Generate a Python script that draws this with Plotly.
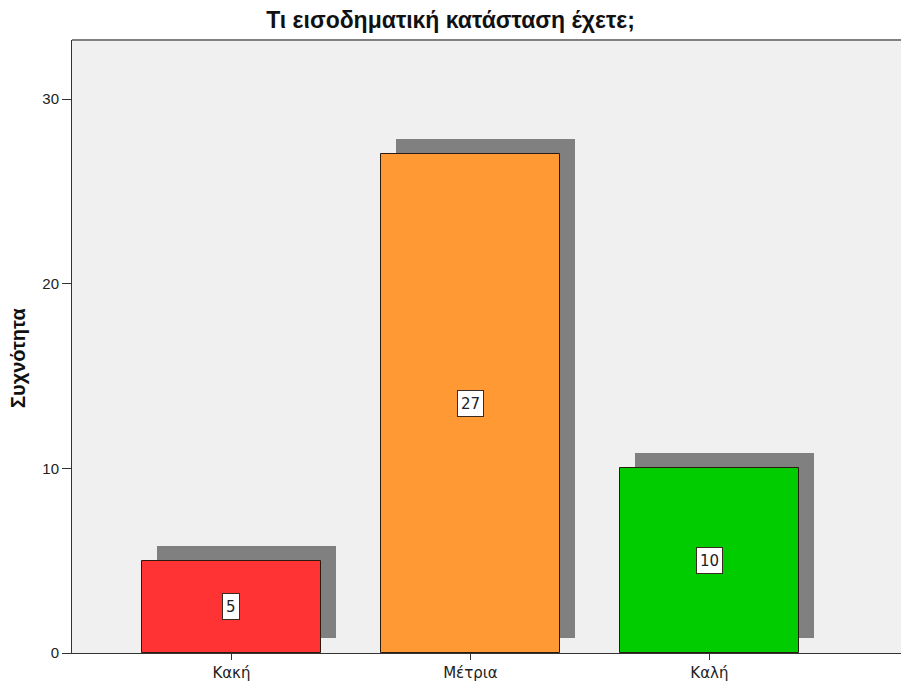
import plotly.graph_objects as go

# Survey responses: income situation
categories = ["Κακή", "Μέτρια", "Καλή"]
counts = [5, 27, 10]
bar_colors = ["#FF3333", "#FF9933", "#00CC00"]

title_text = "Τι εισοδηματική κατάσταση έχετε;"
y_title = "Συχνότητα"
y_ticks = [0, 10, 20, 30]

# Layout geometry (pixels)
W, H = 901, 688
margin_l, margin_r, margin_t, margin_b = 72, 0, 40, 35
plot_w = W - margin_l - margin_r
plot_h = H - margin_t - margin_b

x_lo = -0.667
px_per_cat = 239.0
x_hi = x_lo + plot_w / px_per_cat
y_hi = 33.2
px_per_unit = plot_h / y_hi

bar_w = 0.749
shadow_px = 15
dx = shadow_px / px_per_cat
dy = shadow_px / px_per_unit

xs = list(range(len(categories)))

fig = go.Figure()

# Drop shadows behind each bar
fig.add_trace(go.Bar(
    x=xs, y=counts, base=[dy] * len(counts),
    width=bar_w, offset=-bar_w / 2 + dx,
    marker=dict(color="#808080", line=dict(width=0)),
    hoverinfo="skip", showlegend=False,
))

# Main bars
fig.add_trace(go.Bar(
    x=xs, y=counts, width=bar_w,
    marker=dict(color=bar_colors, line=dict(color="#2a1a10", width=1)),
    showlegend=False,
))

# Count labels in white boxes at mid-height
for xi, v in zip(xs, counts):
    fig.add_annotation(
        x=xi, y=v / 2, text=str(v), showarrow=False, height=19,
        font=dict(family="DejaVu Sans", size=15, color="#222222"),
        bgcolor="white", bordercolor="#3a2a20", borderwidth=1, borderpad=3,
        xanchor="center", yanchor="middle",
    )

# Vertical axis title
fig.add_annotation(
    xref="paper", yref="paper", x=-(margin_l - 18) / plot_w, y=(H - margin_b - 358) / plot_h,
    text=y_title, textangle=-90, showarrow=False, xanchor="center", yanchor="middle",
    font=dict(family="Liberation Sans", size=20, color="#111111", weight="bold"),
)

# Grey frame line along the top of the plot area
fig.add_shape(type="line", xref="paper", yref="paper", x0=0, x1=1, y0=1, y1=1,
              line=dict(color="#808080", width=2))

fig.update_layout(
    width=W, height=H,
    margin=dict(l=margin_l, r=margin_r, t=margin_t, b=margin_b),
    paper_bgcolor="white", plot_bgcolor="#F0F0F0",
    barmode="overlay", bargap=0,
    title=dict(text=title_text, x=0.5, xanchor="center", y=1 - 20 / H, yanchor="middle",
               font=dict(family="Liberation Sans", size=23, color="#111111", weight="bold")),
    xaxis=dict(range=[x_lo, x_hi], tickvals=xs, ticktext=categories,
               showgrid=False, zeroline=False, showline=True, linecolor="#333333", linewidth=1,
               ticks="outside", ticklen=6, tickcolor="#333333", tickwidth=1,
               tickfont=dict(family="DejaVu Sans", size=15, color="#222222")),
    yaxis=dict(range=[0, y_hi], tickvals=y_ticks, showgrid=False, zeroline=False,
               showline=True, linecolor="#333333", linewidth=1,
               ticks="outside", ticklen=9, tickcolor="#333333", tickwidth=1,
               tickfont=dict(family="Liberation Sans", size=15, color="#222222")),
)

fig.write_html("out.html")
